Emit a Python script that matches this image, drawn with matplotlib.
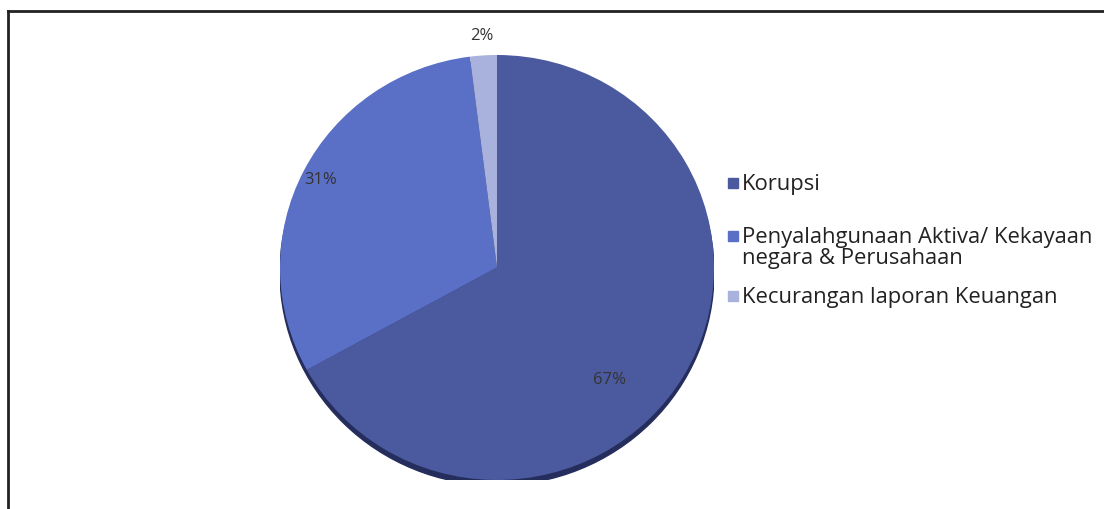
import numpy as np
import matplotlib.pyplot as plt
from matplotlib.patches import Ellipse, Rectangle
from matplotlib.lines import Line2D

categories = ["Korupsi",
              "Penyalahgunaan Aktiva/ Kekayaan\nnegara & Perusahaan",
              "Kecurangan laporan Keuangan"]
values = [67, 31, 2]
colors = ["#4b5a9e", "#5a6fc6", "#a9b2dc"]
# label placement (radius fraction, angle shift in degrees)
label_r = [0.74, 0.91, 1.09]
label_shift = [-15, 0, 0]
# legend rows: pixel y of the first text line centre
legend_y = [183, 236, 296]

plt.rcParams["font.family"] = ["Open Sans", "DejaVu Sans"]

fig = plt.figure(figsize=(11.04, 5.09), dpi=100)
W, H = 1104, 509

# frame around the chart area
fig.add_artist(Line2D([8 / W, 8 / W], [0, 1 - 11 / H], color="#222222", lw=2))
fig.add_artist(Line2D([8 / W, 1], [1 - 11 / H, 1 - 11 / H], color="#222222", lw=2))

ax = fig.add_axes([280 / W, 29 / H, 434 / W, 425 / H])
ax.add_patch(Ellipse((0, -0.025), 2.0, 2.0, color="#252d5c", zorder=0))
wedges, _ = ax.pie(values, colors=colors, startangle=90, counterclock=False,
                   radius=1.0, wedgeprops=dict(linewidth=0))

for w, v, r, s in zip(wedges, values, label_r, label_shift):
    ang = np.deg2rad((w.theta1 + w.theta2) / 2 + s)
    ax.text(r * np.cos(ang), r * np.sin(ang), f"{v}%", ha="center", va="center",
            fontsize=12, color="#333333")

ax.set_aspect("auto")
ax.set_xlim(-1, 1)
ax.set_ylim(-1, 1)
ax.axis("off")

# legend drawn by hand so the rows sit where the original ones do
for lab, c, y in zip(categories, colors, legend_y):
    fig.add_artist(Rectangle((728 / W, 1 - (y + 5) / H), 10 / W, 10 / H,
                             color=c, transform=fig.transFigure))
    fig.text(742 / W, 1 - (y - 9) / H, lab, ha="left", va="top",
             fontsize=15.8, color="#222222", linespacing=0.98)

fig.savefig("out.png", dpi=100, facecolor="white")
